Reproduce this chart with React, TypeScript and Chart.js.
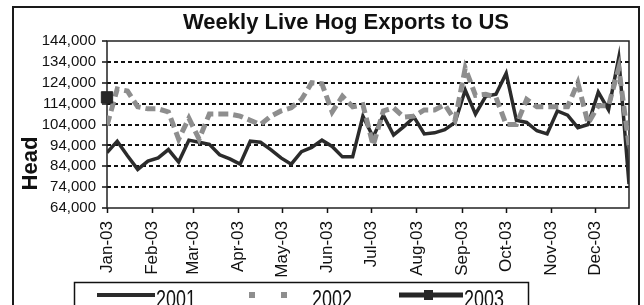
import React, { useEffect, useRef } from "react";
import { Chart, registerables } from "chart.js";

Chart.register(...registerables);

// ---- data ----
const TITLE = "Weekly Live Hog Exports to US";
const Y_AXIS_TITLE = "Head";
const SERIES_NAMES = ["2001", "2002", "2003"];
const MONTH_LABELS = ["Jan-03", "Feb-03", "Mar-03", "Apr-03", "May-03", "Jun-03", "Jul-03", "Aug-03", "Sep-03", "Oct-03", "Nov-03", "Dec-03"];
const MONTH_START_DAYS = [0, 31, 59, 90, 120, 151, 181, 212, 243, 273, 304, 334];
const Y_TICKS = [64000, 74000, 84000, 94000, 104000, 114000, 124000, 134000, 144000];
// weekly report dates, as day of year
const WEEK_DAYS = [0, 7, 14, 21, 28, 35, 42, 49, 56, 63, 70, 77, 84, 91, 98, 105, 112, 119, 126, 133, 140, 147, 154, 161, 168, 175, 182, 189, 196, 203, 210, 217, 224, 231, 238, 245, 252, 259, 266, 273, 280, 287, 294, 301, 308, 315, 322, 329, 336, 343, 350, 357];
const HOGS_2001 = [90500, 96000, 89000, 82500, 86500, 88000, 92000, 86000, 96500, 95500, 94500, 89500, 87500, 85000, 96000, 95500, 92000, 88000, 85000, 91000, 93000, 96500, 93500, 88500, 88500, 108000, 98000, 108500, 99000, 103000, 107500, 99500, 100000, 101500, 105000, 120500, 109000, 117500, 118500, 128500, 106000, 105000, 101000, 99500, 110500, 108500, 102500, 104000, 119500, 111000, 136000, 75500];
const HOGS_2002 = [103500, 121000, 120000, 112500, 111500, 111500, 110000, 97000, 107000, 97000, 109000, 109000, 109000, 108000, 106000, 104000, 108000, 110500, 112000, 116000, 124000, 123500, 110000, 117500, 112500, 113500, 94000, 110500, 112000, 107500, 108000, 111000, 111000, 113500, 106000, 131000, 118000, 118500, 117000, 104000, 104000, 116000, 112500, 112500, 112500, 112500, 124000, 104500, 113000, 113000, 131000, 94000];
const HOGS_2003 = [117000];

const COLOR_2001 = "#2b2b2b";
const COLOR_2002 = "#8e8e8e";
const COLOR_2003 = "#262626";
const FONT = '"Liberation Sans", Arial, sans-serif';

const toPoints = (vals: number[]) => vals.map((v, i) => ({ x: WEEK_DAYS[i], y: v }));

const decorPlugin = {
  id: "decor",
  afterLayout(chart: any) {
    // centre the title over the region the reference uses
    const t = chart.titleBlock;
    if (t) {
      t.left = 66;
      t.right = 626;
      t.width = 560;
    }
  },
  beforeDraw(chart: any) {
    const { ctx, width, height } = chart;
    ctx.save();
    ctx.fillStyle = "#ffffff";
    ctx.fillRect(0, 0, width, height);
    ctx.strokeStyle = "#1a1a1a";
    ctx.lineWidth = 2;
    ctx.strokeRect(13, 7, 626, height + 20);
    ctx.restore();
  },
  beforeDatasetsDraw(chart: any) {
    const { ctx, chartArea: a } = chart;
    ctx.save();
    ctx.strokeStyle = "#222";
    ctx.lineWidth = 1.5;
    ctx.strokeRect(a.left, a.top, a.right - a.left, a.bottom - a.top);
    ctx.restore();
  },
  afterDraw(chart: any) {
    const { ctx } = chart;
    // y axis title
    ctx.save();
    ctx.translate(37, 163.5);
    ctx.rotate(-Math.PI / 2);
    ctx.font = `bold 22px ${FONT}`;
    ctx.textAlign = "center";
    ctx.textBaseline = "alphabetic";
    ctx.fillStyle = "#111";
    ctx.fillText(Y_AXIS_TITLE, 0, 0);
    ctx.restore();

    // legend
    ctx.save();
    ctx.strokeStyle = "#111";
    ctx.lineWidth = 1.5;
    ctx.strokeRect(74.5, 282.5, 454, 40);
    const ly = 295;
    ctx.lineCap = "butt";
    // 2001
    ctx.strokeStyle = COLOR_2001;
    ctx.lineWidth = 4;
    ctx.beginPath();
    ctx.moveTo(97, ly);
    ctx.lineTo(155, ly);
    ctx.stroke();
    // 2002
    ctx.fillStyle = COLOR_2002;
    ctx.fillRect(249, ly - 3, 6, 6);
    ctx.fillRect(281, ly - 3, 6, 6);
    // 2003
    ctx.strokeStyle = COLOR_2003;
    ctx.lineWidth = 5;
    ctx.beginPath();
    ctx.moveTo(399, ly);
    ctx.lineTo(463, ly);
    ctx.stroke();
    ctx.fillStyle = COLOR_2003;
    ctx.fillRect(424, ly - 5, 9, 10);

    ctx.fillStyle = "#111";
    ctx.font = `23px ${FONT}`;
    ctx.textBaseline = "alphabetic";
    ctx.textAlign = "left";
    const drawNarrow = (txt: string, x: number) => {
      ctx.save();
      ctx.translate(x, 307);
      ctx.scale(0.78, 1);
      ctx.fillText(txt, 0, 0);
      ctx.restore();
    };
    drawNarrow(SERIES_NAMES[0], 156);
    drawNarrow(SERIES_NAMES[1], 312);
    drawNarrow(SERIES_NAMES[2], 464);
    ctx.restore();
  },
};

export default function App() {
  const ref = useRef<HTMLCanvasElement | null>(null);

  useEffect(() => {
    if (!ref.current) return;
    const chart = new Chart(ref.current, {
      type: "line",
      data: {
        datasets: [
          {
            label: SERIES_NAMES[0],
            data: toPoints(HOGS_2001),
            borderColor: COLOR_2001,
            backgroundColor: COLOR_2001,
            borderWidth: 3.5,
            pointRadius: 0,
            tension: 0,
            order: 2,
          },
          {
            label: SERIES_NAMES[1],
            data: toPoints(HOGS_2002),
            borderColor: COLOR_2002,
            backgroundColor: COLOR_2002,
            borderWidth: 5,
            borderDash: [10, 5],
            pointRadius: 0,
            tension: 0,
            order: 1,
          },
          {
            label: SERIES_NAMES[2],
            data: toPoints(HOGS_2003),
            borderColor: COLOR_2003,
            backgroundColor: COLOR_2003,
            borderWidth: 3,
            pointStyle: "rect",
            pointRadius: 8,
            pointBorderWidth: 1,
            clip: false,
            order: 0,
          },
        ],
      },
      options: {
        animation: false,
        responsive: false,
        devicePixelRatio: 1,
        layout: { padding: { left: 13, right: 15, top: 0, bottom: 0 } },
        plugins: {
          legend: { display: false },
          tooltip: { enabled: false },
          title: {
            display: true,
            text: TITLE,
            color: "#111",
            font: { family: FONT, size: 22, weight: "bold", lineHeight: 1.2 },
            padding: { top: 10, bottom: 4.6 },
          },
        },
        scales: {
          x: {
            type: "linear",
            min: 0,
            max: WEEK_DAYS[WEEK_DAYS.length - 1],
            afterBuildTicks: (s: any) => {
              s.ticks = MONTH_START_DAYS.map((v) => ({ value: v }));
            },
            afterFit: (s: any) => {
              s.height = 97;
            },
            grid: {
              display: true,
              drawOnChartArea: false,
              drawTicks: true,
              tickLength: 5,
              tickColor: "#111",
              tickWidth: 1.5,
            },
            border: { display: false },
            ticks: {
              autoSkip: false,
              minRotation: 90,
              maxRotation: 90,
              padding: 8,
              color: "#111",
              font: { family: FONT, size: 17 },
              callback: (_v: any, i: number) => MONTH_LABELS[i],
            },
          },
          y: {
            type: "linear",
            min: Y_TICKS[0],
            max: Y_TICKS[Y_TICKS.length - 1],
            afterBuildTicks: (s: any) => {
              s.ticks = Y_TICKS.map((v) => ({ value: v }));
            },
            afterFit: (s: any) => {
              s.width = 94;
            },
            grid: {
              color: (c: any) =>
                c.tick && (c.tick.value === Y_TICKS[0] || c.tick.value === Y_TICKS[Y_TICKS.length - 1])
                  ? "rgba(0,0,0,0)"
                  : "#111",
              lineWidth: 2,
              drawTicks: true,
              tickLength: 5,
              tickColor: "#111",
              tickWidth: 1.5,
              tickBorderDash: [],
            },
            border: { display: false, dash: [4, 3] },
            ticks: {
              autoSkip: false,
              padding: 6,
              color: "#111",
              font: { family: FONT, size: 15 },
              callback: (v: any) => Number(v).toLocaleString("en-US"),
            },
          },
        },
      },
      plugins: [decorPlugin],
    } as any);
    return () => chart.destroy();
  }, []);

  return (
    <div style={{ position: "absolute", left: 0, top: 0, width: 644, height: 305, background: "#fff" }}>
      <canvas ref={ref} width={644} height={305} style={{ display: "block" }} />
    </div>
  );
}
